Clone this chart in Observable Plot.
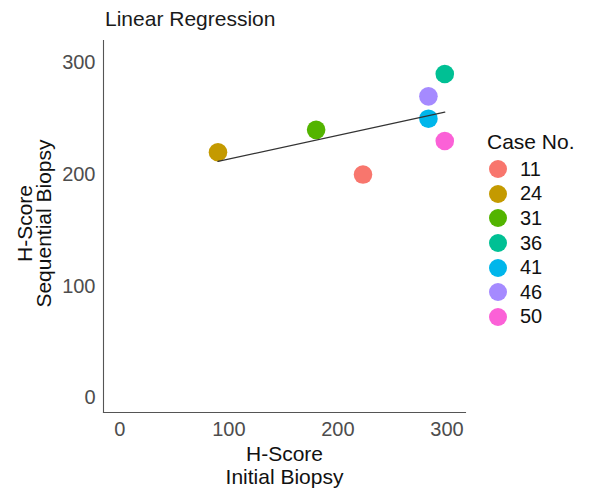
<!DOCTYPE html>
<html>
<head>
<meta charset="utf-8">
<script src="https://cdn.jsdelivr.net/npm/d3@7"></script>
<script src="https://cdn.jsdelivr.net/npm/@observablehq/plot@0.6"></script>
<style>
  html, body { margin: 0; padding: 0; background: #fff; }
  #wrap { position: relative; width: 589px; height: 490px; font-family: "Liberation Sans", Arial, sans-serif; overflow: hidden; }
  #title { position: absolute; left: 105px; top: 7px; font-size: 21px; color: #1a1a1a; line-height: 1.15; }
  #legend { position: absolute; left: 487px; top: 128px; color: #111; }
  #legend .lt { font-size: 21px; line-height: 28px; margin-bottom: 1px; }
  #legend .it { display: flex; align-items: center; height: 24.6px; font-size: 20px; }
  #legend .sw { width: 18px; height: 18px; border-radius: 50%; margin-left: 2px; margin-right: 13px; }
  #chart { position: absolute; left: 0; top: 0; }
</style>
</head>
<body>
<div id="wrap">
  <div id="chart"></div>
  <div id="title">Linear Regression</div>
  <div id="legend"></div>
</div>
<script>
const cases = ["11", "24", "31", "36", "41", "46", "50"];
const initialScore = [223, 90, 180, 298, 283, 283, 298];
const sequentialScore = [200, 220, 240, 290, 250, 270, 230];
const caseColors = ["#F8766D", "#C49A00", "#53B400", "#00C094", "#00B6EB", "#A58AFF", "#FB61D7"];
const xTicks = [0, 100, 200, 300];
const yTicks = [0, 100, 200, 300];

const data = cases.map((c, i) => ({case: c, x: initialScore[i], y: sequentialScore[i]}));

const plot = Plot.plot({
  width: 589,
  height: 490,
  marginLeft: 103,
  marginRight: 124,
  marginTop: 40,
  marginBottom: 78,
  style: {fontFamily: "'Liberation Sans', Arial, sans-serif", background: "#fff"},
  x: {domain: [-15, 317], ticks: xTicks},
  y: {domain: [-13, 320], ticks: yTicks},
  color: {domain: cases, range: caseColors},
  marks: [
    Plot.frame({anchor: "left", stroke: "#555", strokeWidth: 1.1}),
    Plot.frame({anchor: "bottom", stroke: "#555", strokeWidth: 1.1}),
    Plot.axisX({ticks: xTicks, tickSize: 0, tickPadding: 9, fontSize: 20, fill: "#4d4d4d", label: null}),
    Plot.axisY({ticks: yTicks, tickSize: 0, tickPadding: 8, fontSize: 20, fill: "#4d4d4d", label: null}),
    Plot.text(["H-Score\nInitial Biopsy"], {frameAnchor: "bottom", textAnchor: "middle", lineAnchor: "middle", dy: 53, fontSize: 21, fill: "#111", lineHeight: 1.1}),
    Plot.text(["H-Score\nSequential Biopsy"], {frameAnchor: "left", textAnchor: "middle", lineAnchor: "middle", dx: -68, dy: -3, rotate: -90, fontSize: 21, fill: "#111", lineHeight: 0.92}),
    Plot.dot(data, {x: "x", y: "y", fill: "case", r: 9.3}),
    Plot.linearRegressionY(data, {x: "x", y: "y", stroke: "#333", strokeWidth: 1.3, ci: 0})
  ]
});
document.getElementById("chart").appendChild(plot);

const color = plot.scale("color");
const lg = document.getElementById("legend");
const t = document.createElement("div");
t.className = "lt";
t.textContent = "Case No.";
lg.appendChild(t);
cases.forEach((c, i) => {
  const it = document.createElement("div");
  it.className = "it";
  const sw = document.createElement("span");
  sw.className = "sw";
  sw.style.background = caseColors[color.domain.indexOf(c)];
  const lab = document.createElement("span");
  lab.textContent = c;
  it.appendChild(sw);
  it.appendChild(lab);
  lg.appendChild(it);
});
</script>
</body>
</html>
